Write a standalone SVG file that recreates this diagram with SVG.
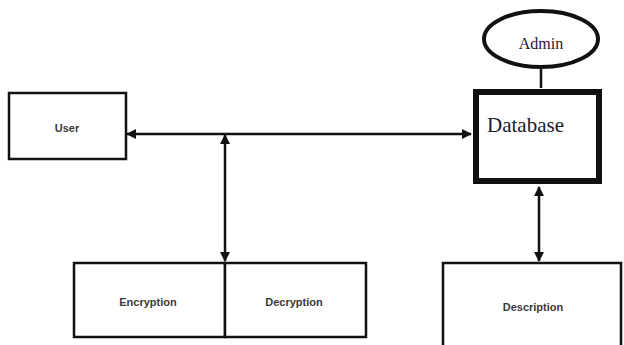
<svg xmlns="http://www.w3.org/2000/svg" width="624" height="345" viewBox="0 0 624 345">
<style>
.box{fill:#fff;stroke:#111;stroke-width:2.5}
.lbl{font-family:"Liberation Sans",Arial,sans-serif;font-size:11px;font-weight:bold;fill:#3a3a3a;text-anchor:middle}
.serif{font-family:"Liberation Serif","Times New Roman",serif;fill:#1a1a2e}
.conn{stroke:#111;stroke-width:2.5;fill:none}
</style>
<defs>
<marker id="arr" viewBox="0 0 10 10" refX="9" refY="5" markerWidth="4" markerHeight="4" orient="auto-start-reverse" markerUnits="strokeWidth">
<path d="M0,0 L10,5 L0,10 z" fill="#111"/>
</marker>
</defs>
<rect width="624" height="345" fill="#fff"/>
<g id="connectors">
<line class="conn" x1="127" y1="134" x2="471" y2="134" marker-start="url(#arr)" marker-end="url(#arr)"/>
<line class="conn" x1="225" y1="135" x2="225" y2="261" marker-start="url(#arr)" marker-end="url(#arr)"/>
<line class="conn" x1="541" y1="68" x2="541" y2="88"/>
<line class="conn" x1="539" y1="187" x2="539" y2="261" marker-start="url(#arr)" marker-end="url(#arr)"/>
</g>
<g id="user">
<rect class="box" x="9" y="93" width="117" height="66"/>
<text class="lbl" x="67" y="132">User</text>
</g>
<g id="admin">
<ellipse cx="541" cy="39" rx="57" ry="28" fill="#fff" stroke="#111" stroke-width="4"/>
<text class="serif" x="541" y="49" font-size="16" text-anchor="middle">Admin</text>
</g>
<g id="database">
<rect x="476" y="92" width="123" height="89" fill="#fff" stroke="#111" stroke-width="6"/>
<text class="serif" x="487" y="132" font-size="21">Database</text>
</g>
<g id="encryption">
<rect class="box" x="74" y="263" width="151" height="74"/>
<text class="lbl" x="148" y="306">Encryption</text>
</g>
<g id="decryption">
<rect class="box" x="225" y="263" width="141" height="74"/>
<text class="lbl" x="294" y="306">Decryption</text>
</g>
<g id="description">
<rect class="box" x="443" y="263" width="178" height="84"/>
<text class="lbl" x="533" y="311">Description</text>
</g>
</svg>
